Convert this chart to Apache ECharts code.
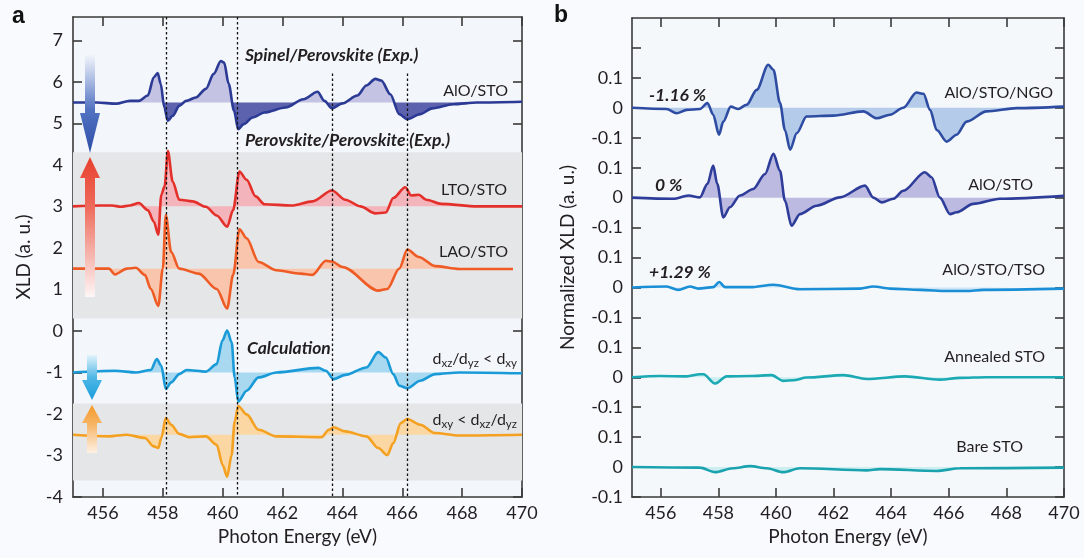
<!DOCTYPE html>
<html><head><meta charset="utf-8">
<script src="https://cdn.jsdelivr.net/npm/echarts@6/dist/echarts.min.js"></script>
<style>html,body{margin:0;padding:0;background:#f9fafd;}#c{width:1084px;height:558px;}</style>
</head><body><div id="c"></div>
<script>
// ---------- DATA ----------
const xTicks = [456, 458, 460, 462, 464, 466, 468, 470];
const yTicksA = [-4, -3, -2, -1, 0, 1, 2, 3, 4, 5, 6, 7];
const yTickLabelsB = ['-0.1','0','0.1','-0.1','0','0.1','-0.1','0','0.1','-0.1','0','0.1','-0.1','0','0.1',''];
const guideLinesA = [458.1, 460.5, 463.65, 466.17];
const guideTopsA = [7.56, 7.56, 6.2, 6.2];

// panel a (absolute XLD values, a.u.)
const aloStoA = [[455.0,5.50],[455.8,5.50],[456.44,5.47],[456.9,5.54],[457.2,5.54],[457.5,5.67],[457.7,6.11],[457.83,6.21],[457.93,5.95],[458.05,5.38],[458.17,5.06],[458.33,5.18],[458.55,5.42],[458.78,5.54],[459.1,5.62],[459.44,5.83],[459.7,6.19],[459.94,6.50],[460.05,6.46],[460.2,5.95],[460.38,5.30],[460.52,4.86],[460.7,4.98],[461.0,5.14],[461.4,5.26],[462.1,5.38],[462.7,5.58],[463.17,5.76],[463.4,5.54],[463.65,5.36],[464.0,5.48],[464.5,5.67],[464.8,5.91],[465.1,6.07],[465.3,6.03],[465.6,5.70],[465.9,5.22],[466.17,5.10],[466.6,5.22],[467.0,5.36],[467.7,5.46],[468.5,5.50],[470.0,5.52]];
const ltoStoA = [[455.0,3.0],[455.9,3.02],[456.3,3.02],[456.6,2.99],[456.9,3.02],[457.2,3.08],[457.5,2.91],[457.7,2.63],[457.85,2.32],[457.95,3.28],[458.06,3.48],[458.17,4.33],[458.33,3.60],[458.55,3.16],[459.0,3.12],[459.44,2.99],[459.8,2.78],[460.15,2.51],[460.35,2.91],[460.56,3.84],[460.8,3.64],[461.1,3.24],[461.4,3.05],[462.3,3.02],[463.0,3.12],[463.65,3.38],[464.1,3.16],[464.6,3.0],[465.1,2.83],[465.45,2.85],[465.7,3.2],[466.1,3.46],[466.3,3.26],[466.55,3.28],[466.8,3.16],[467.3,3.06],[468.5,3.0],[470.0,3.0]];
const laoStoA = [[455.0,1.5],[456.2,1.5],[456.4,1.36],[456.8,1.5],[457.1,1.52],[457.4,1.35],[457.6,1.01],[457.85,0.6],[458.0,1.5],[458.1,2.79],[458.28,1.90],[458.55,1.50],[459.2,1.38],[459.8,1.01],[460.15,0.54],[460.35,1.35],[460.56,2.45],[460.8,2.23],[461.2,1.66],[461.8,1.46],[462.6,1.38],[463.0,1.35],[463.45,1.69],[463.65,1.67],[464.0,1.54],[465.2,0.97],[465.5,1.01],[465.9,1.5],[466.17,1.96],[466.55,1.78],[467.1,1.56],[467.9,1.49],[469.7,1.49]];
const calcXzA = [[455.0,-1.0],[456.4,-0.96],[457.1,-1.0],[457.6,-0.94],[457.8,-0.68],[457.95,-0.84],[458.1,-1.40],[458.28,-1.24],[458.55,-1.04],[458.8,-0.94],[459.44,-0.98],[459.8,-0.80],[459.99,-0.23],[460.15,0.01],[460.3,-0.27],[460.4,-1.12],[460.52,-1.70],[460.8,-1.44],[461.2,-1.12],[461.8,-1.0],[463.2,-0.89],[463.45,-0.96],[463.7,-1.16],[464.1,-1.06],[464.8,-0.88],[465.2,-0.51],[465.45,-0.64],[465.7,-1.04],[465.9,-1.32],[466.17,-1.38],[466.6,-1.20],[467.1,-1.04],[467.9,-1.0],[470.0,-1.02]];
const calcXyA = [[455.0,-2.5],[456.2,-2.54],[456.8,-2.5],[457.4,-2.58],[457.7,-2.78],[457.85,-2.82],[457.95,-2.58],[458.1,-2.10],[458.28,-2.26],[458.55,-2.48],[458.88,-2.56],[459.44,-2.54],[459.8,-2.74],[460.0,-3.23],[460.15,-3.51],[460.3,-2.99],[460.4,-2.18],[460.52,-1.81],[460.8,-2.01],[461.2,-2.38],[461.8,-2.54],[463.3,-2.56],[463.55,-2.38],[463.7,-2.32],[464.1,-2.42],[464.8,-2.54],[465.2,-2.82],[465.5,-2.99],[465.7,-2.70],[465.95,-2.22],[466.17,-2.12],[466.6,-2.26],[467.1,-2.46],[467.9,-2.52],[470.0,-2.5]];

// panel b (normalized XLD, each around 0)
const ngoB = [[455.0,0],[456.2,-0.004],[456.55,-0.018],[456.9,-0.007],[457.36,-0.004],[457.62,0.016],[457.82,-0.023],[458.02,-0.09],[458.17,-0.046],[458.43,0.004],[458.69,-0.004],[458.98,0.01],[459.33,0.06],[459.73,0.144],[459.91,0.127],[460.14,0.016],[460.31,-0.074],[460.49,-0.14],[460.72,-0.085],[461.06,-0.029],[461.99,-0.026],[463.03,-0.012],[463.5,-0.035],[463.96,-0.023],[464.42,0],[464.88,0.051],[465.12,0.047],[465.35,-0.007],[465.58,-0.074],[465.93,-0.113],[466.27,-0.09],[466.62,-0.046],[467.31,-0.012],[468.36,-0.001],[470.0,0.004]];
const aloStoB = [[455.0,0],[456.43,-0.004],[456.96,0.007],[457.36,0.001],[457.62,0.046],[457.82,0.107],[457.96,0.046],[458.17,-0.066],[458.4,-0.032],[458.75,0.007],[459.21,0.029],[459.62,0.079],[459.91,0.146],[460.14,0.09],[460.31,-0.01],[460.54,-0.094],[460.83,-0.055],[461.41,-0.027],[462.22,0.001],[463.09,0.04],[463.38,0],[463.67,-0.016],[464.07,-0.004],[464.42,0.023],[465.17,0.085],[465.4,0.068],[465.69,0],[466.04,-0.055],[466.27,-0.049],[466.85,-0.021],[467.78,-0.004],[470.0,0.006]];
const tsoB = [[455.0,0],[456.2,0.003],[456.61,-0.008],[457.01,0.003],[457.3,-0.004],[457.82,0.001],[458.03,0.018],[458.23,0.001],[459.1,0.001],[459.91,0.009],[460.83,-0.006],[462.92,-0.004],[463.38,0.003],[463.96,-0.004],[465.0,-0.008],[465.93,-0.012],[466.62,-0.012],[467.2,-0.008],[470.0,-0.004]];
const annealedB = [[455.0,0],[455.97,0.004],[456.9,0.003],[457.36,0.01],[457.48,0.01],[457.88,-0.021],[458.29,0.003],[459.1,0.004],[459.85,0.007],[460.25,-0.012],[460.6,-0.01],[461.06,-0.001],[462.34,0.007],[463.15,-0.006],[464.48,0.003],[465.69,-0.008],[466.39,-0.002],[467.31,0],[470.0,0]];
const bareB = [[455.0,0],[457.36,-0.002],[457.88,-0.017],[458.5,-0.004],[459.1,0.003],[459.68,-0.004],[460.25,-0.017],[460.83,-0.004],[463.15,-0.011],[463.61,-0.007],[465.58,-0.013],[466.39,-0.004],[470.0,-0.002]];

// ---------- CHART ----------
const FONT = 'Lato, "Open Sans", sans-serif';
const TXT = '#231f20';
const chart = echarts.init(document.getElementById('c'));

function clip(data, base, sign) {
  const out = [];
  for (let i = 0; i < data.length; i++) {
    const x = data[i][0], y = data[i][1];
    if (i > 0) {
      const x0 = data[i-1][0], y0 = data[i-1][1];
      if ((y0 - base) * (y - base) < 0) {
        const t = (base - y0) / (y - y0);
        out.push([x0 + t * (x - x0), base]);
      }
    }
    out.push([x, sign > 0 ? Math.max(y, base) : Math.min(y, base)]);
  }
  return out;
}

const series = [];
const SM = 0.3;
function addCurve(c, xi, yi) {
  const d = c.data.map(p => [p[0], p[1] + c.offset]);
  const base = c.base + c.offset;
  [[1, c.pos], [-1, c.neg]].forEach(([s, col]) => {
    series.push({type:'line', xAxisIndex:xi, yAxisIndex:yi, data:clip(d, base, s), symbol:'none',
      smooth:SM, smoothMonotone:'x', silent:true, z:2, lineStyle:{opacity:0},
      areaStyle:{color:col, origin:base, opacity:1}});
  });
  series.push({type:'line', xAxisIndex:xi, yAxisIndex:yi, data:d, symbol:'none', smooth:SM, smoothMonotone:'x',
    silent:true, z:4, lineStyle:{color:c.line, width:c.w || 2.6}});
}

// backgrounds + guide lines (panel a)
series.push({type:'line', xAxisIndex:0, yAxisIndex:0, data:[[455,-10]], symbol:'none', silent:true,
  markArea:{silent:true, itemStyle:{color:'#e5e6e8'}, data:[[{yAxis:4.3},{yAxis:0.3}],[{yAxis:-1.75},{yAxis:-3.6}]]}});
series.push({type:'line', xAxisIndex:0, yAxisIndex:0, data:[[455,-10]], symbol:'none', silent:true,
  markLine:{silent:true, symbol:['none','none'], label:{show:false}, z:5,
    lineStyle:{color:'#111', type:[2.5,2.5], width:1.3},
    data: guideLinesA.map((x, i) => [{coord:[x, guideTopsA[i]]}, {coord:[x, -4]}])}});

[
  {data:aloStoA, base:5.5, offset:0, line:'#2b3a94', pos:'#c4c3e4', neg:'#5c62ae'},
  {data:ltoStoA, base:3, offset:0, line:'#e4302a', pos:'#f4b4bb', neg:'#f4b4bb'},
  {data:laoStoA, base:1.5, offset:0, line:'#ee5b25', pos:'#f9c5ad', neg:'#f9c5ad'},
  {data:calcXzA, base:-1, offset:0, line:'#1a9bd8', pos:'#a9d9f1', neg:'#a9d9f1'},
  {data:calcXyA, base:-2.5, offset:0, line:'#f4a021', pos:'#fbd8a3', neg:'#fbd8a3'}
].forEach(c => addCurve(c, 0, 0));

[
  {data:ngoB, base:0, offset:1.2, line:'#2d4ca2', pos:'#b5cbea', neg:'#b5cbea'},
  {data:aloStoB, base:0, offset:0.9, line:'#2e3d9a', pos:'#bcbae1', neg:'#bcbae1'},
  {data:tsoB, base:0, offset:0.6, line:'#1b8fd6', pos:'#cfe5f5', neg:'#cfe5f5'},
  {data:annealedB, base:0, offset:0.3, line:'#1ba9b4', pos:'#cdeef0', neg:'#cdeef0'},
  {data:bareB, base:0, offset:0, line:'#1aa3ae', pos:'#cdeef0', neg:'#cdeef0'}
].forEach(c => addCurve(c, 2, 2));

const yTicksB = yTickLabelsB.map((_, i) => Math.round((i - 1) * 10) / 100);

function xAx(grid, pos, show) {
  return {type:'value', gridIndex:grid, position:pos, min:455, max:470,
    axisLine:{show:true, onZero:false, lineStyle:{color:'#3a3a3a', width:1.6}},
    axisTick:{show:true, inside:true, length:9, customValues:xTicks, lineStyle:{color:'#3a3a3a', width:1.6}},
    axisLabel:{show:show, customValues:xTicks, margin:7, fontSize:18, color:TXT, fontFamily:FONT},
    splitLine:{show:false},
    name: show ? 'Photon Energy (eV)' : '', nameLocation:'middle', nameGap:29,
    nameTextStyle:{fontSize:19, color:TXT, fontFamily:FONT}};
}
function yAx(grid, pos, show, min, max, ticks, fmt, name, gap, margin) {
  return {type:'value', gridIndex:grid, position:pos, min:min, max:max,
    axisLine:{show:true, onZero:false, lineStyle:{color:'#3a3a3a', width:1.6}},
    axisTick:{show:true, inside:true, length:9, customValues:ticks, lineStyle:{color:'#3a3a3a', width:1.6}},
    axisLabel:{show:show, customValues:ticks, margin:margin, fontSize:18, color:TXT, fontFamily:FONT, formatter:fmt},
    splitLine:{show:false},
    name: show ? name : '', nameLocation:'middle', nameGap:gap,
    nameTextStyle:{fontSize:19, color:TXT, fontFamily:FONT}};
}

function arrow(x, top, headBase, tip, sw, hw, stops) {
  const pts = [[x-sw,top],[x+sw,top],[x+sw,headBase],[x+hw,headBase],[x,tip],[x-hw,headBase],[x-sw,headBase]];
  return {type:'polygon', z:20, silent:true, shape:{points:pts},
    style:{fill:new echarts.graphic.LinearGradient(0,0,0,1,stops)}};
}

function txt(x, y, text, font, align) {
  return {type:'text', x:x, y:y, z:30, silent:true,
    style:{text:text, font:font, fill:TXT, align:align, verticalAlign:'middle'}};
}
const BI = 'italic bold 17.5px ' + FONT;
const NR = '16px ' + FONT;
const subRich = {
  i:{fontSize:16, fontFamily:FONT, fill:TXT, color:TXT, lineHeight:20, verticalAlign:'middle'},
  s:{fontSize:11.5, fontFamily:FONT, fill:TXT, color:TXT, lineHeight:12, verticalAlign:'bottom'}
};

chart.setOption({
  animation:false,
  backgroundColor:'#f9fafd',
  grid:[
    {left:73, top:17, width:449, height:480, show:true, backgroundColor:'#f3f6fa', borderWidth:0},
    {left:632, top:18, width:432, height:479, show:true, backgroundColor:'#f5f8fb', borderWidth:0}
  ],
  xAxis:[xAx(0,'bottom',true), xAx(0,'top',false), xAx(1,'bottom',true), xAx(1,'top',false)],
  yAxis:[
    yAx(0,'left',true,-4,7.56,yTicksA,v=>String(v),'XLD (a. u.)',40,10),
    yAx(0,'right',false,-4,7.56,yTicksA,null,'',0,0),
    yAx(1,'left',true,-0.1,1.5,yTicksB,v=>{const l=yTickLabelsB[Math.round(v*10)+1];return l===undefined?'':l;},'Normalized XLD (a. u.)',55,9),
    yAx(1,'right',false,-0.1,1.5,yTicksB,null,'',0,0)
  ],
  series:series,
  graphic:[
    arrow(90, 55, 113, 153, 5, 10, [{offset:0,color:'rgba(240,244,251,0.9)'},{offset:0.55,color:'#5373c2'},{offset:1,color:'#2c4ea6'}]),
    arrow(90, 297, 178, 157, 5, 10, [{offset:0,color:'#e8402e'},{offset:0.35,color:'#ee6a5a'},{offset:1,color:'#fdf6f6'}]),
    arrow(92, 355, 380, 400, 5, 10, [{offset:0,color:'#e2f3fb'},{offset:0.5,color:'#4fb7e6'},{offset:1,color:'#1a9edc'}]),
    arrow(92, 453, 423, 405, 5, 10, [{offset:0,color:'#f49a26'},{offset:0.4,color:'#f7b466'},{offset:1,color:'#fdf1e4'}]),
    {type:'text', x:12, y:17, z:30, style:{text:'a', font:'bold 23px "Liberation Sans", Arial, sans-serif', fill:'#111', verticalAlign:'middle'}},
    {type:'text', x:554, y:16, z:30, style:{text:'b', font:'bold 23px "Liberation Sans", Arial, sans-serif', fill:'#111', verticalAlign:'middle'}},
    txt(245, 55, 'Spinel/Perovskite (Exp.)', BI, 'left'),
    txt(245, 140, 'Perovskite/Perovskite (Exp.)', BI, 'left'),
    txt(508, 91, 'AlO/STO', NR, 'right'),
    txt(507, 190, 'LTO/STO', NR, 'right'),
    txt(508, 252, 'LAO/STO', NR, 'right'),
    txt(247, 348, 'Calculation', BI, 'left'),
    {type:'text', x:517, y:359, z:30, silent:true, style:{text:'{i|d}{s|xz}{i|/d}{s|yz}{i| < d}{s|xy}', rich:subRich, align:'right', verticalAlign:'middle'}},
    {type:'text', x:517, y:420, z:30, silent:true, style:{text:'{i|d}{s|xy}{i| < d}{s|xz}{i|/d}{s|yz}', rich:subRich, align:'right', verticalAlign:'middle'}},
    txt(649, 95, '-1.16 %', BI, 'left'),
    txt(1053, 93, 'AlO/STO/NGO', NR, 'right'),
    txt(655, 185, '0 %', BI, 'left'),
    txt(1033, 185, 'AlO/STO', NR, 'right'),
    txt(649, 272, '+1.29 %', BI, 'left'),
    txt(1045, 270, 'AlO/STO/TSO', NR, 'right'),
    txt(1045, 357, 'Annealed STO', NR, 'right'),
    txt(1023, 447, 'Bare STO', NR, 'right')
  ]
});
</script>
</body></html>
